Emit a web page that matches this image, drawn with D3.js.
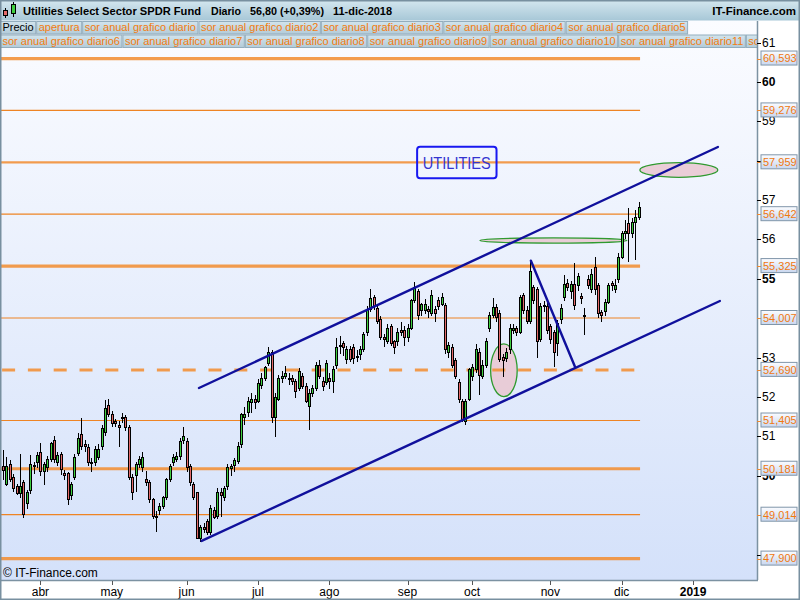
<!DOCTYPE html>
<html><head><meta charset="utf-8">
<script src="https://cdn.jsdelivr.net/npm/d3@7"></script>
<style>body{margin:0;background:#fff}svg{display:block;font-family:"Liberation Sans",Arial,sans-serif}</style>
</head><body><svg id="c" width="800" height="600"></svg>
<script>
// ---------------- DATA ----------------
const title = "Utilities Select Sector SPDR Fund";
const period = "Diario";
const lastQuote = "56,80 (+0,39%)";
const lastDate = "11-dic-2018";
const brand = "IT-Finance.com";
const legendRow1 = ["Precio","apertura","sor anual grafico diario","sor anual grafico diario2","sor anual grafico diario3","sor anual grafico diario4","sor anual grafico diario5"];
const legendRow2 = ["sor anual grafico diario6","sor anual grafico diario7","sor anual grafico diario8","sor anual grafico diario9","sor anual grafico diario10","sor anual grafico diario11","sor anual grafico diario12"];

// trading-day index of the first session of each month (index 0 = 15-mar-2018)
const monthLabels = ["abr","may","jun","jul","ago","sep","oct","nov","dic","2019"];
const monthIndex  = [11,32,54,75,96,119,138,161,182,203];

const opens = [50.23,49.77,50.28,49.95,49.74,49.54,49.82,49.31,49.64,50.23,50.33,50.59,50.10,50.20,50.41,50.89,50.35,50.53,50.07,50.05,
49.51,49.95,50.58,51.04,50.79,50.71,50.33,50.33,50.46,50.74,51.09,51.78,51.55,51.37,51.29,51.45,51.47,51.24,49.95,50.02,
50.28,50.20,49.90,49.82,49.39,48.98,49.11,49.21,49.44,49.92,50.33,50.41,50.48,50.89,50.86,50.25,49.77,49.57,48.42,48.68,
48.83,48.55,49.13,48.98,49.59,49.44,49.74,50.18,50.26,50.36,50.79,51.47,51.60,51.85,51.95,51.90,52.30,52.48,52.86,53.12,
51.49,51.95,52.48,52.53,52.48,52.48,52.40,52.23,52.51,52.28,51.75,52.10,52.23,52.81,52.40,52.36,52.48,52.40,52.79,53.32,
53.35,52.96,53.22,53.25,53.02,53.07,53.22,53.63,54.23,54.54,54.26,53.98,53.50,53.42,53.78,53.40,53.40,53.70,53.70,53.52,
53.75,54.46,54.69,54.21,54.21,54.23,54.13,54.23,54.44,54.36,54.33,53.12,53.27,52.94,52.36,51.88,51.37,51.95,52.51,52.69,
53.14,52.51,52.81,53.75,54.08,54.28,54.13,53.01,52.99,53.20,53.70,53.73,53.65,54.59,54.21,53.91,54.79,54.72,53.45,54.31,
54.31,53.78,53.63,53.37,53.96,54.54,54.89,54.67,54.85,54.82,54.56,54.05,54.99,54.72,55.30,54.84,54.15,54.16,54.41,54.89,
54.74,54.99,55.55,56.14,56.41,56.16,56.42,56.57];
const highs = [50.66,50.48,50.41,50.05,49.80,50.56,49.90,49.65,50.53,50.35,50.60,50.84,50.35,50.50,50.86,51.01,50.60,50.60,50.15,50.10,
49.85,50.55,51.09,51.47,50.90,50.80,50.45,50.75,50.80,51.30,51.93,51.95,51.65,51.45,51.40,51.60,51.55,51.30,50.05,50.35,
50.50,50.60,50.13,49.90,49.45,49.10,49.30,49.50,49.95,50.30,50.55,50.60,50.95,51.24,50.95,50.30,49.85,49.60,48.75,48.80,
48.90,49.25,49.20,49.70,49.70,49.75,50.30,50.30,50.45,50.85,51.60,51.75,52.00,52.10,52.05,52.45,52.60,52.79,53.27,53.20,
52.10,52.55,52.65,52.80,52.60,52.55,52.45,52.75,52.60,52.35,52.20,52.30,52.90,52.95,52.50,52.95,52.60,52.80,53.50,53.55,
53.42,53.30,53.30,53.35,53.20,53.30,53.65,54.30,54.74,54.60,54.35,54.05,53.60,53.85,53.85,53.45,53.75,53.90,53.80,53.85,
54.50,54.92,54.75,54.40,54.50,54.30,54.72,54.30,54.55,54.63,54.40,53.40,53.35,53.00,52.45,51.95,51.95,52.75,52.85,53.35,
53.25,52.95,53.50,54.15,54.51,54.35,54.20,53.10,53.25,53.85,53.85,53.80,54.60,54.65,54.30,55.42,54.85,54.80,54.40,54.45,
54.40,53.85,53.70,53.95,54.35,55.10,55.00,54.95,55.40,55.15,54.65,54.26,55.10,55.25,55.55,54.90,54.20,54.50,54.90,54.95,
55.00,55.65,56.22,56.50,56.80,56.55,56.75,56.95];
const lows = [49.90,49.74,49.85,49.60,49.51,49.45,48.93,49.15,49.55,50.05,50.20,50.00,49.77,50.10,50.35,50.33,50.25,50.02,49.90,49.26,
49.40,49.90,50.50,50.65,50.60,50.25,50.10,50.25,50.40,50.65,51.00,51.50,51.25,51.25,50.74,51.35,51.15,49.90,49.39,49.60,
50.20,50.10,49.75,49.30,48.90,48.58,49.00,49.15,49.40,49.85,50.25,50.35,50.40,50.80,50.10,49.75,49.40,48.40,48.32,48.55,
48.50,48.50,48.90,48.90,48.95,49.35,49.65,50.00,50.10,50.30,50.70,51.30,51.50,51.60,51.70,51.85,52.20,52.40,52.80,51.34,
50.99,51.90,52.35,52.45,52.30,52.30,51.98,52.15,52.20,51.85,51.17,52.00,52.15,52.45,52.15,52.30,52.20,52.10,52.70,53.10,
53.05,52.85,52.90,52.85,52.90,52.95,53.15,53.55,54.15,54.20,53.85,53.45,53.27,53.35,53.30,53.10,53.30,53.55,53.30,53.40,
53.70,54.40,53.95,54.05,54.10,54.00,54.05,53.90,54.20,54.30,53.10,53.00,52.75,52.45,51.85,51.37,51.30,51.90,52.40,52.60,
52.05,52.45,52.75,53.65,54.00,53.90,52.90,52.51,52.90,53.10,53.60,53.55,53.60,54.10,53.85,53.85,54.35,52.99,53.40,54.15,
53.60,53.35,52.76,53.05,53.85,54.45,54.70,54.50,54.20,54.70,54.35,53.58,54.75,54.65,54.60,54.00,53.90,54.05,54.35,54.70,
54.65,54.90,55.50,56.00,55.43,56.05,55.48,56.50];
const closes = [50.13,50.23,49.92,49.69,49.54,49.72,49.01,49.57,50.28,50.26,50.51,50.10,50.28,50.41,50.81,50.41,50.51,50.15,50.02,49.39,
49.77,50.46,50.96,50.74,50.74,50.33,50.35,50.66,50.66,51.19,51.70,51.57,51.34,51.34,51.24,51.47,51.24,49.95,49.59,50.28,
50.41,50.46,49.82,49.39,48.98,48.96,49.21,49.44,49.90,50.25,50.46,50.48,50.86,50.99,50.20,49.82,49.46,48.42,48.68,48.65,
48.55,49.18,48.95,49.59,49.51,49.69,50.20,50.23,50.38,50.74,51.57,51.57,51.88,51.95,51.85,52.34,52.48,52.76,53.14,51.49,
52.00,52.48,52.53,52.61,52.46,52.40,52.15,52.64,52.26,51.90,52.10,52.23,52.81,52.51,52.28,52.86,52.40,52.71,53.27,53.30,
53.25,53.22,52.96,52.99,53.04,53.20,53.60,54.23,54.49,54.29,53.91,53.50,53.45,53.75,53.37,53.27,53.65,53.65,53.50,53.73,
54.44,54.79,54.08,54.34,54.36,54.18,54.59,54.13,54.31,54.54,53.20,53.30,52.81,52.51,51.93,51.42,51.88,52.69,52.76,53.20,
52.56,52.81,53.42,54.08,54.28,54.01,52.96,52.94,53.14,53.75,53.75,53.65,54.54,54.21,53.91,55.20,54.46,53.40,54.31,54.33,
53.70,53.45,53.14,53.88,54.26,54.87,54.79,54.85,54.33,55.05,54.49,54.07,54.84,55.12,54.72,54.13,54.08,54.41,54.82,54.82,
54.82,55.55,56.14,56.19,56.16,56.44,56.57,56.80];

// horizontal levels
const levels      = [60.593,59.276,57.959,56.642,55.325,54.007,52.690,51.405,50.181,49.014,47.900];
const levelLabels = ["60,593","59,276","57,959","56,642","55,325","54,007","52,690","51,405","50,181","49,014","47,900"];
const levelKind   = ["thick","thin","medium","thin","thick","thin","dashed","thin","thick","thin","thick"];
const levelEndIndex = 187.4;

const axisTicks  = [48,49,50,51,52,53,54,55,56,57,58,59,60,61];
// tick labels visible in the picture (the others sit under the level boxes)
const axisLabels = [50,51,52,53,55,56,57,59,60,61];

// trend lines: [index, value] at each end
const trendStart = [[57.65,52.231],[58.44,48.348],[155.29,55.462]];
const trendEnd   = [[210.3,58.348],[210.88,54.439],[168.32,52.756]];

// ellipses: center index, center value, radius in index units, radius in value units
const ellCenterIdx = [147.35,161.9,198.8];
const ellCenterVal = [52.68,55.975,57.764];
const ellRadIdx    = [3.91,21.6,11.47];
const ellRadVal    = [0.668,0.065,0.185];

const noteText = "UTILITIES";
const noteIdx = 133.5, noteVal = 57.955;

// ---------------- DRAWING ----------------
const svg = d3.select("#c");
const defs = svg.append("defs");
function lg(id, stops){
  const g = defs.append("linearGradient").attr("id",id).attr("x1",0).attr("y1",0).attr("x2",0).attr("y2",1);
  stops.forEach(([o,c])=>g.append("stop").attr("offset",o).attr("stop-color",c));
}
lg("hdr",[[0,"#d4e7ef"],[1,"#a7c7d7"]]);
lg("plotbg",[[0,"#fbfcff"],[1,"#d4e1fa"]]);
lg("leg",[[0,"#d2e4ec"],[1,"#b3cbd8"]]);
lg("lvl",[[0,"#fbfcff"],[1,"#c9d7ef"]]);

const P = {l:0, r:757, t:21, b:580};
const x = d3.scaleLinear().domain([-0.88, 221.8]).range([0, 757]);
const y = d3.scaleLinear().domain([47.9, 61]).range([558.6, 42.5]);

defs.append("clipPath").attr("id","pc").append("rect").attr("x",P.l).attr("y",P.t).attr("width",P.r-P.l).attr("height",P.b-P.t);

// plot background
svg.append("rect").attr("x",P.l).attr("y",20).attr("width",P.r-P.l).attr("height",P.b-20).attr("fill","url(#plotbg)");

const g = svg.append("g").attr("clip-path","url(#pc)");

// ellipses
const ells = d3.range(ellCenterIdx.length);
g.selectAll("ellipse.e").data(ells).join("ellipse")
  .attr("cx",i=>x(ellCenterIdx[i])).attr("cy",i=>y(ellCenterVal[i]))
  .attr("rx",i=>x(ellCenterIdx[i]+ellRadIdx[i])-x(ellCenterIdx[i]))
  .attr("ry",i=>y(ellCenterVal[i]-ellRadVal[i])-y(ellCenterVal[i]))
  .attr("fill","#e9c9d3").attr("fill-opacity",0.9).attr("stroke","#2f9a2f").attr("stroke-width",1.3);

// horizontal levels
const kindW = {thick:3.2, medium:2.2, thin:1.2, dashed:3};
g.selectAll("line.lv").data(levels).join("line")
  .attr("x1",x(-0.88)).attr("x2",x(levelEndIndex))
  .attr("y1",d=>y(d)).attr("y2",d=>y(d))
  .attr("stroke",(d,i)=>levelKind[i]==="thin"?"#ee8424":"#f2913a")
  .attr("stroke-opacity",(d,i)=>levelKind[i]==="thin"?1:0.9)
  .attr("stroke-width",(d,i)=>kindW[levelKind[i]])
  .attr("stroke-dasharray",(d,i)=>levelKind[i]==="dashed"?"13,12.8":null)
  .attr("stroke-dashoffset",(d,i)=>levelKind[i]==="dashed"?23.7:null);

// candles
const idx = d3.range(closes.length);
const cg = g.append("g").attr("shape-rendering","crispEdges");
cg.selectAll("line.w").data(idx).join("line")
  .attr("x1",i=>Math.round(x(i))+0.5).attr("x2",i=>Math.round(x(i))+0.5)
  .attr("y1",i=>y(highs[i])).attr("y2",i=>y(lows[i]))
  .attr("stroke","#000").attr("stroke-width",1);
cg.selectAll("rect.b").data(idx).join("rect")
  .attr("x",i=>Math.round(x(i))-0.5).attr("width",2)
  .attr("y",i=>y(Math.max(opens[i],closes[i])))
  .attr("height",i=>Math.max(1, Math.abs(y(opens[i])-y(closes[i]))))
  .attr("fill",i=>closes[i]>=opens[i]?"#3fcf3f":"#e46a6a")
  .attr("stroke","#000").attr("stroke-width",1);

// trend lines
g.selectAll("line.t").data(d3.range(trendStart.length)).join("line")
  .attr("x1",i=>x(trendStart[i][0])).attr("y1",i=>y(trendStart[i][1]))
  .attr("x2",i=>x(trendEnd[i][0])).attr("y2",i=>y(trendEnd[i][1]))
  .attr("stroke","#10109c").attr("stroke-width",2.4).attr("stroke-linecap","round");

// note box
const nx = x(noteIdx), ny = y(noteVal);
g.append("rect").attr("x",nx-39.7).attr("y",ny-15.8).attr("width",79.4).attr("height",31.6).attr("rx",3)
  .attr("fill","none").attr("stroke","#1818f0").attr("stroke-width",2);
g.append("text").attr("x",nx).attr("y",ny+7).attr("text-anchor","middle")
  .attr("font-size",17).attr("fill","#3434d0").attr("textLength",68).attr("lengthAdjust","spacingAndGlyphs").text(noteText);

// legend rows
function legendRow(items, y0, h, baseline){
  const rg = svg.append("g").attr("clip-path","url(#pc)");
  let cx = 0;
  items.forEach((t,k)=>{
    const tmp = rg.append("text").attr("font-size",11).text(t);
    const w = tmp.node().getComputedTextLength() + 5;
    tmp.remove();
    if (cx >= P.r) return;
    rg.append("rect").attr("x",cx+0.5).attr("y",y0+0.5).attr("width",w-1).attr("height",h-1)
      .attr("fill","url(#leg)").attr("stroke","#93adbd").attr("stroke-width",1);
    rg.append("text").attr("x",cx+2.5).attr("y",baseline).attr("font-size",11)
      .attr("fill",t==="Precio"?"#000":"#f27c10").text(t);
    cx += w;
  });
}
legendRow(legendRow1, 21, 13.5, 31);
legendRow(legendRow2, 34.5, 13.5, 44.5);

// header
svg.append("rect").attr("x",0).attr("y",0).attr("width",800).attr("height",20.5).attr("fill","url(#hdr)");
const ic = svg.append("g").attr("shape-rendering","crispEdges");
ic.append("line").attr("x1",5.5).attr("x2",5.5).attr("y1",8).attr("y2",18).attr("stroke","#000");
ic.append("rect").attr("x",3.5).attr("y",10.5).attr("width",4).attr("height",5).attr("fill","#e46a6a").attr("stroke","#000");
ic.append("line").attr("x1",13.5).attr("x2",13.5).attr("y1",2).attr("y2",17).attr("stroke","#000");
ic.append("rect").attr("x",11.5).attr("y",4.5).attr("width",4).attr("height",9).attr("fill","#3fcf3f").attr("stroke","#000");
// header pieces: [text, left x, width]
[[title,23,178],[period,211,30],[lastQuote,250,74],[lastDate,333,59]].forEach(([t,px,w])=>{
  svg.append("text").attr("x",px).attr("y",15).attr("font-size",11.5).attr("font-weight","bold")
    .attr("textLength",w).attr("lengthAdjust","spacingAndGlyphs").attr("fill","#000").text(t);
});
svg.append("text").attr("x",796).attr("y",15).attr("text-anchor","end").attr("font-size",11.5).attr("font-weight","bold").text(brand);

// right axis
svg.append("line").attr("x1",P.r+0.5).attr("x2",P.r+0.5).attr("y1",P.t).attr("y2",P.b).attr("stroke","#7c92a2").attr("stroke-width",1.5);
const ya = svg.append("g");
ya.selectAll("line").data(axisTicks).join("line")
  .attr("x1",P.r).attr("x2",P.r+4).attr("y1",d=>Math.round(y(d))+0.5).attr("y2",d=>Math.round(y(d))+0.5).attr("stroke","#000");
ya.selectAll("text").data(axisLabels).join("text")
  .attr("x",P.r+5).attr("y",d=>y(d)+4).attr("font-size",12)
  .attr("font-weight",d=>d%5===0?"bold":"normal").text(d=>d);
// level labels
const la = svg.append("g");
la.selectAll("line").data(levels).join("line")
  .attr("x1",P.r).attr("x2",P.r+4).attr("y1",d=>Math.round(y(d))+0.5).attr("y2",d=>Math.round(y(d))+0.5).attr("stroke","#f08a30");
la.selectAll("rect").data(levels).join("rect")
  .attr("x",761).attr("y",d=>y(d)-7.5).attr("width",36).attr("height",14)
  .attr("fill","url(#lvl)").attr("stroke","#8096aa").attr("stroke-width",1);
la.selectAll("text").data(levels).join("text")
  .attr("x",763).attr("y",d=>y(d)+3.8).attr("font-size",11).attr("fill","#f07810")
  .text((d,i)=>levelLabels[i]);

// bottom axis
svg.append("line").attr("x1",0).attr("x2",P.r+1).attr("y1",P.b+0.5).attr("y2",P.b+0.5).attr("stroke","#7c92a2").attr("stroke-width",1.5);
const xa = svg.append("g");
xa.selectAll("line").data(monthIndex).join("line")
  .attr("x1",d=>Math.round(x(d))+0.5).attr("x2",d=>Math.round(x(d))+0.5).attr("y1",P.b+1).attr("y2",P.b+5).attr("stroke","#555");
xa.selectAll("text").data(monthIndex).join("text")
  .attr("x",d=>x(d)).attr("y",596).attr("text-anchor","middle").attr("font-size",12)
  .attr("font-weight",(d,i)=>monthLabels[i]==="2019"?"bold":"normal")
  .text((d,i)=>monthLabels[i]);

svg.append("text").attr("x",3).attr("y",577).attr("font-size",12).text("© " + brand);

// frame
svg.append("rect").attr("x",0.75).attr("y",0.75).attr("width",798.5).attr("height",598.5)
  .attr("fill","none").attr("stroke","#7890a0").attr("stroke-width",1.5);
</script></body></html>
